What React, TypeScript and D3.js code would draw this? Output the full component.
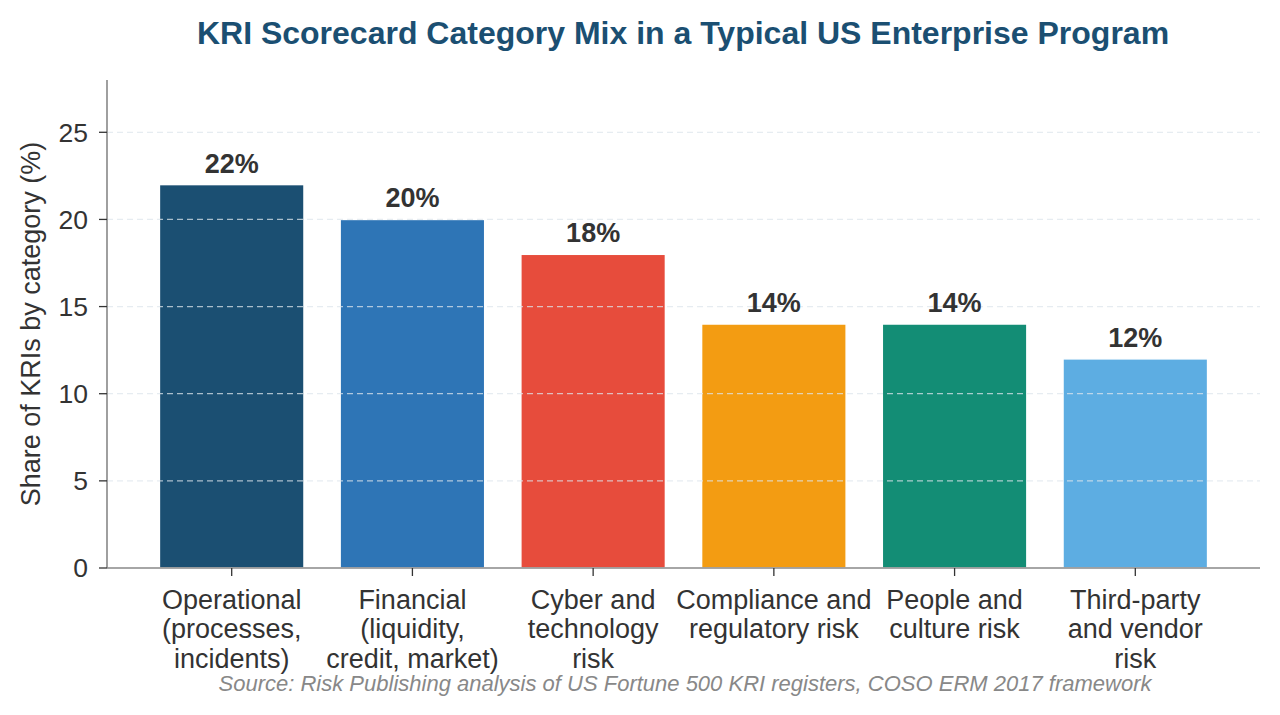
import { useEffect, useRef } from "react";
import * as d3 from "d3";

const categories = [
  ["Operational", "(processes,", "incidents)"],
  ["Financial", "(liquidity,", "credit, market)"],
  ["Cyber and", "technology", "risk"],
  ["Compliance and", "regulatory risk"],
  ["People and", "culture risk"],
  ["Third-party", "and vendor", "risk"],
];
const shares = [22, 20, 18, 14, 14, 12];
const barColors = ["#1b4f72", "#2e75b6", "#e74c3c", "#f39c12", "#138d75", "#5dade2"];
const yTicks = [0, 5, 10, 15, 20, 25];

const title = "KRI Scorecard Category Mix in a Typical US Enterprise Program";
const yLabel = "Share of KRIs by category (%)";
const source = "Source: Risk Publishing analysis of US Fortune 500 KRI registers, COSO ERM 2017 framework";

export default function App() {
  const ref = useRef<SVGSVGElement>(null);

  useEffect(() => {
    const width = 1280;
    const height = 715;
    const left = 107, right = 1260, top = 80, bottom = 568;
    const font = "'Liberation Sans', Arial, sans-serif";

    const svg = d3.select(ref.current);
    svg.selectAll("*").remove();

    const x = d3.scaleLinear().domain([-0.69, 5.69]).range([left, right]);
    const y = d3.scaleLinear().domain([0, 28]).range([bottom, top]);
    const barW = x(0.8) - x(0);

    svg.append("rect").attr("width", width).attr("height", height).attr("fill", "#fff");

    // bars
    svg.selectAll(".bar")
      .data(shares)
      .enter()
      .append("rect")
      .attr("class", "bar")
      .attr("x", (_, i) => x(i) - barW / 2)
      .attr("y", d => y(d))
      .attr("width", barW)
      .attr("height", d => y(0) - y(d))
      .attr("fill", (_, i) => barColors[i])
      .attr("stroke", "#fff")
      .attr("stroke-width", 1.5);

    // grid sits above the bars
    svg.selectAll(".grid")
      .data(yTicks.filter(t => t > 0))
      .enter()
      .append("line")
      .attr("x1", left)
      .attr("x2", right)
      .attr("y1", d => y(d))
      .attr("y2", d => y(d))
      .attr("stroke", "#dde5ec")
      .attr("stroke-opacity", 0.75)
      .attr("stroke-width", 1.3)
      .attr("stroke-dasharray", "6,4");

    // spines
    svg.append("line")
      .attr("x1", left).attr("x2", left).attr("y1", top).attr("y2", bottom)
      .attr("stroke", "#888").attr("stroke-width", 1.6);
    svg.append("line")
      .attr("x1", left).attr("x2", right).attr("y1", bottom).attr("y2", bottom)
      .attr("stroke", "#888").attr("stroke-width", 1.6);

    // y ticks
    const yt = svg.append("g");
    yTicks.forEach(t => {
      yt.append("line")
        .attr("x1", left - 8).attr("x2", left).attr("y1", y(t)).attr("y2", y(t))
        .attr("stroke", "#333").attr("stroke-width", 1.3);
      yt.append("text")
        .attr("x", left - 19).attr("y", y(t)).attr("dy", "0.35em")
        .attr("text-anchor", "end")
        .attr("font-family", font).attr("font-size", 26.5).attr("fill", "#333")
        .text(t);
    });

    // x ticks and category labels
    categories.forEach((lines, i) => {
      svg.append("line")
        .attr("x1", x(i)).attr("x2", x(i)).attr("y1", bottom).attr("y2", bottom + 8)
        .attr("stroke", "#333").attr("stroke-width", 1.3);
      const t = svg.append("text")
        .attr("text-anchor", "middle")
        .attr("font-family", font).attr("font-size", 27).attr("fill", "#333");
      lines.forEach((ln, j) => {
        t.append("tspan").attr("x", x(i)).attr("y", 609 + j * 29.4).text(ln);
      });
    });

    // value labels
    svg.selectAll(".val")
      .data(shares)
      .enter()
      .append("text")
      .attr("x", (_, i) => x(i))
      .attr("y", d => y(d) - 12)
      .attr("text-anchor", "middle")
      .attr("font-family", font).attr("font-size", 27).attr("font-weight", "bold")
      .attr("fill", "#333")
      .text(d => `${d}%`);

    // y axis label
    svg.append("text")
      .attr("transform", `translate(40,${(top + bottom) / 2}) rotate(-90)`)
      .attr("text-anchor", "middle")
      .attr("font-family", font).attr("font-size", 27).attr("fill", "#333")
      .text(yLabel);

    // title
    svg.append("text")
      .attr("x", 683).attr("y", 44)
      .attr("text-anchor", "middle")
      .attr("font-family", font).attr("font-size", 32).attr("font-weight", "bold")
      .attr("fill", "#1b4f72")
      .text(title);

    // source note
    svg.append("text")
      .attr("x", 685).attr("y", 691)
      .attr("text-anchor", "middle")
      .attr("font-family", font).attr("font-size", 22).attr("font-style", "italic")
      .attr("fill", "#888")
      .text(source);
  }, []);

  return (
    <svg ref={ref} width={1280} height={715} style={{ position: "absolute", left: 0, top: 0 }} />
  );
}
